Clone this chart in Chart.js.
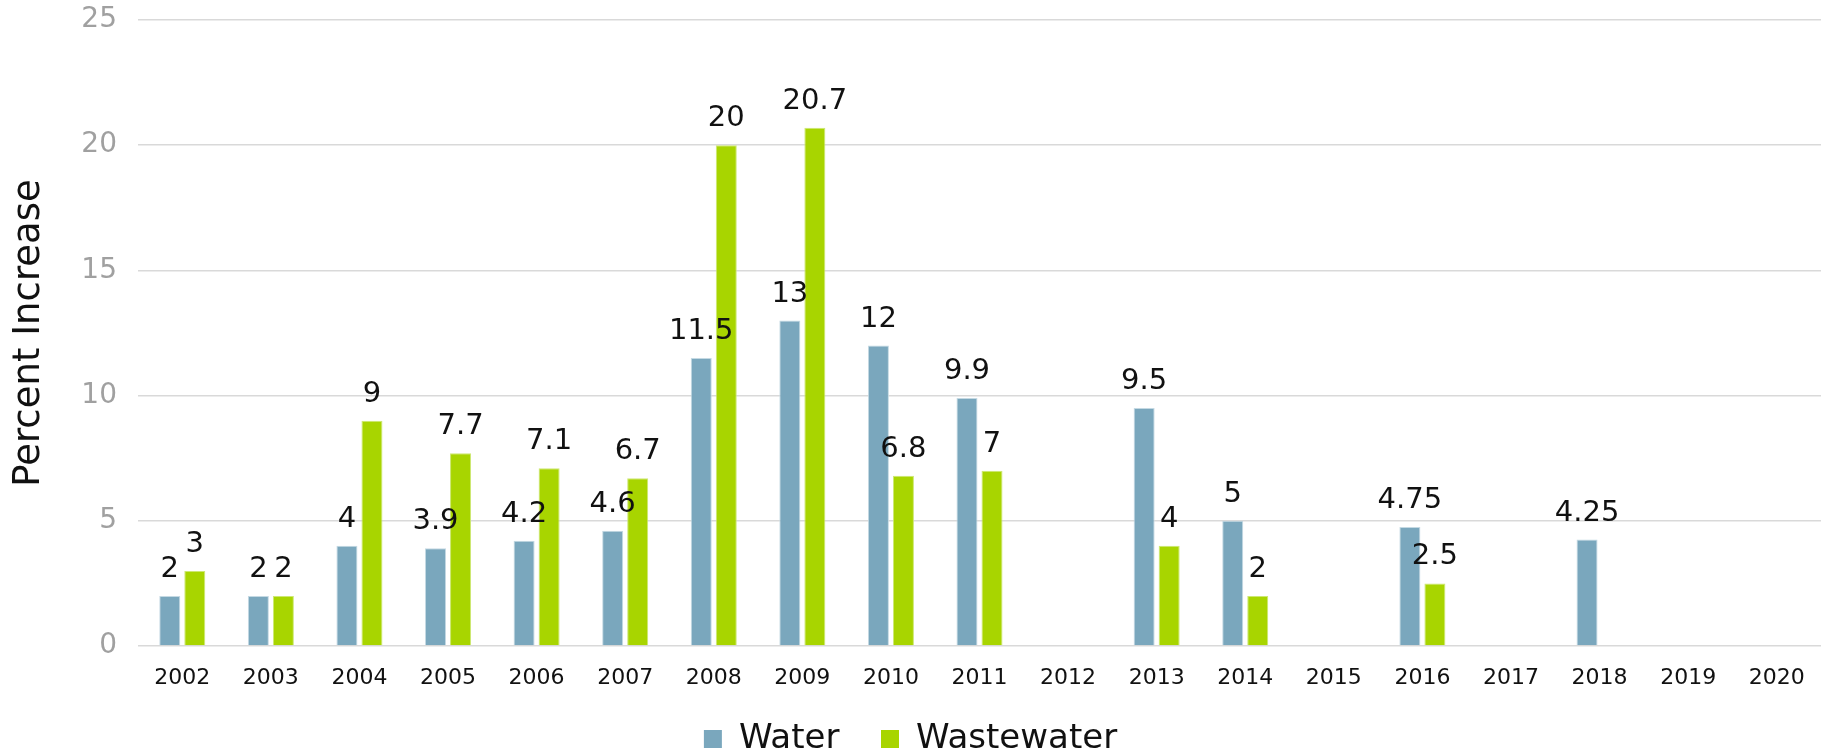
<!DOCTYPE html>
<html>
<head>
<meta charset="utf-8">
<script src="https://cdn.jsdelivr.net/npm/chart.js@4.4.1/dist/chart.umd.min.js"></script>
<style>
    body { margin: 0; background: #ffffff; }
    #wrap { width: 1833px; height: 756px; }
</style>
</head>
<body>
<div id="wrap"><canvas id="chart" width="1833" height="756"></canvas></div>
<script>
// 年（カテゴリ）
const years = ['2002', '2003', '2004', '2005', '2006', '2007', '2008', '2009', '2010', '2011',
               '2012', '2013', '2014', '2015', '2016', '2017', '2018', '2019', '2020'];

// 上水道の値上げ率（％）
const waterValues = [2, 2, 4, 3.9, 4.2, 4.6, 11.5, 13, 12, 9.9,
                     null, 9.5, 5, null, 4.75, null, 4.25, null, null];

// 下水道の値上げ率（％）
const wastewaterValues = [3, 2, 9, 7.7, 7.1, 6.7, 20, 20.7, 6.8, 7,
                          null, 4, 2, null, 2.5, null, null, null, null];

// Y軸の目盛り
const yTicks = [0, 5, 10, 15, 20, 25];

const FONT = "'DejaVu Sans', sans-serif";

// 棒の上に値を描くプラグイン
const valueLabelPlugin = {
    id: 'valueLabels',
    afterDatasetsDraw(chart) {
        const ctx = chart.ctx;
        ctx.save();
        ctx.font = '29px ' + FONT;
        ctx.fillStyle = '#111111';
        ctx.textAlign = 'center';
        ctx.textBaseline = 'bottom';
        chart.data.datasets.forEach((ds, i) => {
            const meta = chart.getDatasetMeta(i);
            meta.data.forEach((bar, j) => {
                const v = ds.data[j];
                if (v === null || v === undefined) return;  // 値なしは飛ばす
                ctx.fillText(String(v), bar.x, bar.y - 12);
            });
        });
        ctx.restore();
    }
};

const ctx = document.getElementById('chart').getContext('2d');
const chart = new Chart(ctx, {
    type: 'bar',
    data: {
        labels: years,
        datasets: [{
            label: 'Water',
            data: waterValues,
            backgroundColor: '#7aa7bd',
            borderColor: '#c4d9e3',
            borderWidth: 1,
            categoryPercentage: 0.565,
            barPercentage: 0.84
        }, {
            label: 'Wastewater',
            data: wastewaterValues,
            backgroundColor: '#a8d500',
            borderColor: '#cde873',
            borderWidth: 1,
            categoryPercentage: 0.565,
            barPercentage: 0.84
        }]
    },
    options: {
        responsive: false,
        devicePixelRatio: 1,
        animation: false,
        layout: { padding: { left: 0, right: 12, top: 20, bottom: -10 } },
        plugins: {
            tooltip: { enabled: false },
            legend: {
                position: 'bottom',
                labels: {
                    boxWidth: 18,
                    boxHeight: 18,
                    padding: 20,
                    color: '#111111',
                    font: { family: FONT, size: 34 },
                    // 凡例の項目間を広げる
                    generateLabels(chart) {
                        const items = Chart.defaults.plugins.legend.labels.generateLabels(chart);
                        items.forEach((it, i) => {
                            it.lineWidth = 0;
                            if (i < items.length - 1) it.text = it.text + '  ';
                        });
                        return items;
                    }
                }
            }
        },
        scales: {
            x: {
                grid: { display: false, drawTicks: false },
                border: { display: false },
                ticks: {
                    color: '#111111',
                    font: { family: FONT, size: 22 },
                    padding: 19,
                    maxRotation: 0,
                    autoSkip: false
                },
                afterFit(scale) { scale.height = 56; }
            },
            y: {
                min: 0,
                max: 25,
                afterBuildTicks(scale) {
                    scale.ticks = yTicks.map(v => ({ value: v }));
                },
                grid: { color: '#d9d9d9', lineWidth: 1.5, drawTicks: false },
                border: { display: false },
                ticks: {
                    color: '#a0a0a0',
                    font: { family: FONT, size: 28 },
                    padding: 21
                },
                title: {
                    display: true,
                    text: 'Percent Increase',
                    color: '#111111',
                    font: { family: FONT, size: 37 },
                    padding: { top: 7, bottom: 4 }
                },
                afterFit(scale) {
                    scale.width = 138;
                    // 上端の余白はlayoutで指定する
                    scale.paddingTop = 0;
                    scale.paddingBottom = 0;
                }
            }
        }
    },
    plugins: [valueLabelPlugin]
});
</script>
</body>
</html>
